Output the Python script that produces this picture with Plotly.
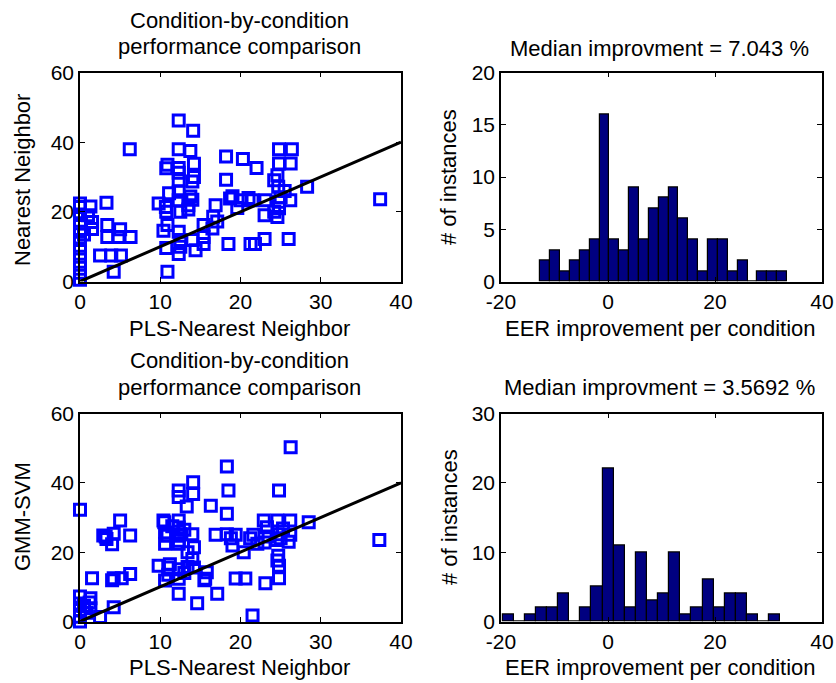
import plotly.graph_objects as go

# ---- EER per condition: PLS-Nearest Neighbor (x) vs Nearest Neighbor (y)
pls_nn_a = [0, 0, 0, 0, 0, 0, 0, 0, 0, 0, 0,
            1.3, 1.5, 1.5, 3.3, 3.4, 5.0, 3.4, 4.8, 6.3, 2.5, 3.9, 5.1, 4.2, 6.2,
            12.3, 14.1, 12.3, 13.75, 10.75, 10.9, 12.3, 14.2, 12.3, 12.3, 14.0, 14.2,
            11.1, 12.3, 13.75, 9.8, 10.7, 12.3, 13.5, 14.0, 10.75, 12.5, 13.5, 10.9,
            10.4, 12.3, 12.5, 12.5, 14.0, 15.4, 10.75, 12.3, 14.4, 15.4, 16.6, 10.9,
            15.4, 16.5, 17.1, 16.9,
            18.2, 20.3, 22.0, 18.2, 24.8, 26.4, 26.25, 24.8, 24.2, 24.7, 28.3, 18.7,
            20.0, 21.5, 23.1, 26.2, 25.0, 19.6, 23.0, 24.6, 24.8, 24.8, 24.2, 18.5,
            21.25, 21.8, 23.0, 26.0, 37.4, 19.0, 21.0, 25.5, 24.6,
            1.0, 0.5]
nn_a = [0.5, 2.5, 4.8, 7.1, 9.5, 11.9, 14.3, 16.7, 19.1, 21.4, 22.4,
        21.5, 17.1, 15.1, 22.6, 16.2, 15.0, 12.8, 12.8, 12.8, 7.5, 7.5, 7.5, 2.8, 38.0,
        46.2, 43.3, 38.0, 37.5, 32.5, 33.5, 32.6, 33.8, 31.2, 29.1, 28.7, 30.0,
        25.3, 25.8, 24.4, 22.4, 21.4, 23.3, 21.9, 23.5, 20.0, 20.0, 20.7, 16.2,
        14.6, 14.3, 11.9, 10.0, 11.9, 12.8, 9.6, 7.9, 9.0, 16.2, 18.6, 2.8,
        10.8, 15.2, 17.2, 21.9,
        35.9, 35.2, 32.6, 29.2, 38.0, 38.0, 33.9, 33.9, 29.1, 27.2, 27.2, 23.8,
        23.3, 23.3, 23.3, 23.3, 24.2, 21.1, 19.0, 18.5, 21.0, 22.9, 20.0, 10.8,
        10.8, 10.8, 12.2, 12.2, 23.6, 24.5, 24.0, 26.0, 30.5,
        19.0, 13.5]

# ---- EER per condition: PLS-Nearest Neighbor (x) vs GMM-SVM (y)
pls_nn_b = [0, 0, 0, 0, 0, 0,
            1.3, 1.3, 1.5, 2.5, 4.2, 2.9, 3.3, 4.0, 4.2, 5.0, 6.25, 4.2, 5.2, 6.25, 4.0,
            14.1, 14.1, 12.3, 12.3, 13.3, 16.3, 10.4, 12.3, 10.5, 12.3, 10.6, 12.5,
            14.0, 16.9, 10.9, 12.3, 10.6, 12.3, 14.2, 14.0, 9.8, 11.0, 12.3, 14.2,
            13.4, 15.8, 10.6, 12.3, 15.6, 15.5, 12.3, 17.1, 14.6, 12.3, 11.0, 13.4,
            26.25, 18.3, 18.5, 24.8, 18.3, 22.9, 24.6, 26.2, 28.5, 23.3, 18.3, 19.4,
            21.6, 24.6, 26.2, 24.5, 37.3, 22.1, 19.0, 20.4, 24.6, 24.8, 19.4, 20.6,
            23.1, 24.8, 21.5, 25.0, 26.0, 24.7, 18.8, 21.2, 23.5,
            0.5, 1.2, 0.8, 3.2, 11.5, 13.0, 11.2, 13.0, 25.3, 23.0]
gmm_svm_b = [0.0, 1.4, 3.3, 5.2, 7.2, 32.2,
             6.7, 3.8, 12.5, 1.3, 4.1, 24.8, 23.8, 22.3, 25.3, 29.1, 24.8, 12.5, 12.5, 13.7, 11.9,
             40.2, 36.8, 37.8, 35.9, 33.2, 33.4, 29.1, 29.1, 28.6, 27.1, 25.7, 25.2,
             25.2, 25.0, 24.7, 24.7, 22.4, 22.4, 21.4, 18.0, 16.1, 15.6, 15.1, 15.6,
             15.7, 14.2, 11.8, 12.3, 12.3, 11.9, 8.0, 8.0, 5.3, 23.3, 13.5, 20.0,
             50.3, 44.7, 37.8, 37.8, 31.1, 29.1, 29.1, 29.1, 28.6, 27.2, 25.2, 25.0,
             25.0, 25.2, 25.0, 23.5, 23.5, 22.4, 21.9, 20.0, 17.6, 16.1, 12.4, 12.4,
             11.0, 12.5, 1.7, 24.0, 23.0, 19.0, 24.0, 24.0, 24.5,
             4.5, 5.5, 2.5, 24.5, 27.5, 26.5, 16.5, 14.0, 26.8, 22.8]

# ---- Histograms of per-condition EER improvement (25 bins each)
hist_a_counts = [2, 3, 1, 2, 3, 4, 16, 4, 3, 9, 4, 7, 8, 9, 6, 4, 1, 4, 4, 1, 2, 0, 1, 1, 1]
hist_a_range = (-12.65, 33.46)
hist_b_counts = [1, 0, 1, 2, 2, 4, 0, 2, 5, 22, 11, 2, 10, 3, 4, 10, 1, 2, 6, 2, 4, 4, 1, 0, 1]
hist_b_range = (-19.7, 32.2)
median_a = "7.043"
median_b = "3.5692"

scatter_x_ticks = [0, 10, 20, 30, 40]
scatter_y_ticks = [0, 20, 40, 60]
hist_x_ticks = [-20, 0, 20, 40]
hist_a_y_ticks = [0, 5, 10, 15, 20]
hist_b_y_ticks = [0, 10, 20, 30]

W, H = 836, 683
FONT = "Liberation Sans, Arial, sans-serif"
TICK_FS = 21
TEXT_FS = 22


def fx(p):
    return p / W


def fy(p):
    return 1 - p / H


def bins(counts, rng):
    lo, hi = rng
    w = (hi - lo) / len(counts)
    return [lo + (i + 0.5) * w for i in range(len(counts))], w


def ticks(vals):
    # plain hyphen-minus for negative tick labels
    return dict(tickvals=vals, ticktext=[str(v) for v in vals])


fig = go.Figure()

# scatter panels
for xs, ys, xa, ya in [(pls_nn_a, nn_a, "x", "y"), (pls_nn_b, gmm_svm_b, "x3", "y3")]:
    fig.add_trace(go.Scatter(
        x=xs, y=ys, mode="markers", xaxis=xa, yaxis=ya, cliponaxis=False,
        marker=dict(symbol="square-open", size=11, color="#0000ff",
                    line=dict(width=3, color="#0000ff")),
        showlegend=False, hoverinfo="skip"))
    fig.add_trace(go.Scatter(
        x=[0, 40], y=[0, 40], mode="lines", xaxis=xa, yaxis=ya,
        line=dict(color="black", width=3), showlegend=False, hoverinfo="skip"))

# histogram panels
for counts, rng, xa, ya in [(hist_a_counts, hist_a_range, "x2", "y2"),
                            (hist_b_counts, hist_b_range, "x4", "y4")]:
    centers, w = bins(counts, rng)
    fig.add_trace(go.Bar(
        x=centers, y=counts, width=w, xaxis=xa, yaxis=ya,
        marker=dict(color="#000080", line=dict(color="black", width=1.2)),
        showlegend=False, hoverinfo="skip"))

left_dom = [fx(80), fx(401)]
right_dom = [fx(501), fx(822)]
top_dom = [fy(281.5), fy(72.5)]
bot_dom = [fy(621.5), fy(413.5)]

axis_common = dict(
    showline=True, linecolor="black", linewidth=1.5, mirror="ticks",
    ticks="inside", ticklen=5, tickwidth=1, tickcolor="black", automargin=False,
    showgrid=False, zeroline=False, tickfont=dict(family=FONT, size=TICK_FS, color="black"),
)
x_common = dict(axis_common, ticklabelstandoff=1)

fig.update_layout(
    width=W, height=H,
    margin=dict(l=0, r=0, t=0, b=0),
    plot_bgcolor="white", paper_bgcolor="white",
    bargap=0,
    font=dict(family=FONT, size=TEXT_FS, color="black"),
    xaxis=dict(domain=left_dom, anchor="y", range=[0, 40], **ticks(scatter_x_ticks), **x_common),
    yaxis=dict(domain=top_dom, anchor="x", range=[0, 60], **ticks(scatter_y_ticks), **axis_common),
    xaxis2=dict(domain=right_dom, anchor="y2", range=[-20, 40], **ticks(hist_x_ticks), **x_common),
    yaxis2=dict(domain=top_dom, anchor="x2", range=[0, 20], **ticks(hist_a_y_ticks), **axis_common),
    xaxis3=dict(domain=left_dom, anchor="y3", range=[0, 40], **ticks(scatter_x_ticks), **x_common),
    yaxis3=dict(domain=bot_dom, anchor="x3", range=[0, 60], **ticks(scatter_y_ticks), **axis_common),
    xaxis4=dict(domain=right_dom, anchor="y4", range=[-20, 40], **ticks(hist_x_ticks), **x_common),
    yaxis4=dict(domain=bot_dom, anchor="x4", range=[0, 30], **ticks(hist_b_y_ticks), **axis_common),
)


def label(text, x, y, angle=0):
    fig.add_annotation(text=text, x=fx(x), y=fy(y), xref="paper", yref="paper",
                       showarrow=False, textangle=angle, xanchor="center", yanchor="middle",
                       font=dict(family=FONT, size=TEXT_FS, color="black"))


# titles
label("Condition-by-condition", 239, 20)
label("performance comparison", 239, 47)
label(f"Median improvment = {median_a} %", 659, 48)
label("Condition-by-condition", 239, 360)
label("performance comparison", 239, 387)
label(f"Median improvment = {median_b} %", 659, 387)

# axis labels
label("PLS-Nearest Neighbor", 239, 329)
label("EER improvement per condition", 660, 329)
label("PLS-Nearest Neighbor", 239, 667)
label("EER improvement per condition", 660, 667)
label("Nearest Neighbor", 22, 180, -90)
label("# of instances", 449, 177, -90)
label("GMM-SVM", 22, 517, -90)
label("# of instances", 449, 517, -90)

fig.write_html("out.html")
